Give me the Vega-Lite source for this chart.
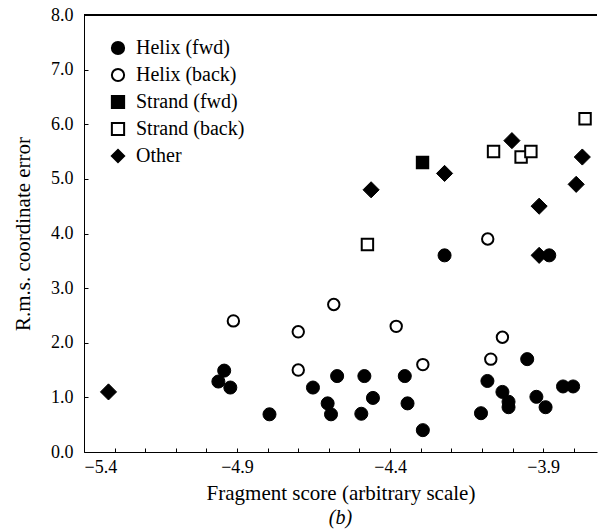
{
  "$schema": "https://vega.github.io/schema/vega-lite/v6.json",
  "width": 513,
  "height": 437,
  "autosize": {"type": "none"},
  "padding": {"left": 84, "top": 15, "right": 2, "bottom": 79},
  "background": "white",
  "config": {
    "font": "Liberation Serif",
    "view": {"stroke": null},
    "axis": {"grid": false, "domainColor": "black", "tickColor": "black", "labelColor": "black", "titleColor": "black", "labelFont": "Liberation Serif", "titleFont": "Liberation Serif", "labelFontSize": 18, "titleFontSize": 21, "titleFontWeight": "normal", "tickSize": -4, "labelPadding": 15, "labelOverlap": false},
    "legend": {"title": null, "orient": "none", "legendX": 24, "legendY": 23, "rowPadding": 5, "symbolStrokeWidth": 2, "symbolSize": 150, "labelOffset": 8, "labelFont": "Liberation Serif", "labelFontSize": 20, "labelColor": "black"}
  },
  "title": {"text": "(b)", "orient": "bottom", "fontSize": 20, "font": "Liberation Serif", "fontStyle": "italic", "fontWeight": "normal", "offset": 5, "color": "black"},
  "data": {"values": [
    {"x": -4.912, "y": 2.4, "type": "Helix (back)"},
    {"x": -4.70, "y": 2.2, "type": "Helix (back)"},
    {"x": -4.584, "y": 2.7, "type": "Helix (back)"},
    {"x": -4.380, "y": 2.3, "type": "Helix (back)"},
    {"x": -4.70, "y": 1.5, "type": "Helix (back)"},
    {"x": -4.293, "y": 1.6, "type": "Helix (back)"},
    {"x": -4.033, "y": 2.1, "type": "Helix (back)"},
    {"x": -4.071, "y": 1.7, "type": "Helix (back)"},
    {"x": -4.081, "y": 3.9, "type": "Helix (back)"},
    {"x": -4.942, "y": 1.49, "type": "Helix (fwd)"},
    {"x": -4.961, "y": 1.29, "type": "Helix (fwd)"},
    {"x": -4.922, "y": 1.18, "type": "Helix (fwd)"},
    {"x": -4.794, "y": 0.69, "type": "Helix (fwd)"},
    {"x": -4.652, "y": 1.18, "type": "Helix (fwd)"},
    {"x": -4.604, "y": 0.89, "type": "Helix (fwd)"},
    {"x": -4.593, "y": 0.69, "type": "Helix (fwd)"},
    {"x": -4.573, "y": 1.39, "type": "Helix (fwd)"},
    {"x": -4.484, "y": 1.39, "type": "Helix (fwd)"},
    {"x": -4.494, "y": 0.70, "type": "Helix (fwd)"},
    {"x": -4.456, "y": 0.99, "type": "Helix (fwd)"},
    {"x": -4.352, "y": 1.39, "type": "Helix (fwd)"},
    {"x": -4.343, "y": 0.89, "type": "Helix (fwd)"},
    {"x": -4.293, "y": 0.40, "type": "Helix (fwd)"},
    {"x": -3.952, "y": 1.70, "type": "Helix (fwd)"},
    {"x": -4.082, "y": 1.30, "type": "Helix (fwd)"},
    {"x": -4.103, "y": 0.71, "type": "Helix (fwd)"},
    {"x": -4.033, "y": 1.10, "type": "Helix (fwd)"},
    {"x": -4.013, "y": 0.92, "type": "Helix (fwd)"},
    {"x": -4.013, "y": 0.82, "type": "Helix (fwd)"},
    {"x": -3.922, "y": 1.01, "type": "Helix (fwd)"},
    {"x": -3.892, "y": 0.82, "type": "Helix (fwd)"},
    {"x": -3.835, "y": 1.20, "type": "Helix (fwd)"},
    {"x": -3.802, "y": 1.20, "type": "Helix (fwd)"},
    {"x": -4.222, "y": 3.6, "type": "Helix (fwd)"},
    {"x": -3.880, "y": 3.6, "type": "Helix (fwd)"},
    {"x": -4.294, "y": 5.3, "type": "Strand (fwd)"},
    {"x": -3.763, "y": 6.1, "type": "Strand (back)"},
    {"x": -4.062, "y": 5.5, "type": "Strand (back)"},
    {"x": -3.972, "y": 5.4, "type": "Strand (back)"},
    {"x": -3.940, "y": 5.5, "type": "Strand (back)"},
    {"x": -4.474, "y": 3.8, "type": "Strand (back)"},
    {"x": -4.002, "y": 5.7, "type": "Other"},
    {"x": -3.772, "y": 5.4, "type": "Other"},
    {"x": -4.222, "y": 5.1, "type": "Other"},
    {"x": -4.462, "y": 4.8, "type": "Other"},
    {"x": -3.792, "y": 4.9, "type": "Other"},
    {"x": -3.913, "y": 4.5, "type": "Other"},
    {"x": -3.913, "y": 3.6, "type": "Other"},
    {"x": -5.32, "y": 1.1, "type": "Other"}
  ]},
  "layer": [
    {
      "mark": {"type": "rule", "color": "black", "strokeWidth": 1},
      "encoding": {"y": {"datum": 8, "type": "quantitative"}}
    },
    {
      "encoding": {
        "x": {"field": "x", "type": "quantitative", "scale": {"domain": [-5.4, -3.724], "nice": false, "zero": false}, "axis": {"values": [-5.4, -5.3, -5.2, -5.1, -5.0, -4.9, -4.8, -4.7, -4.6, -4.5, -4.4, -4.3, -4.2, -4.1, -4.0, -3.9, -3.8], "labelExpr": "round((datum.value + 5.4) * 10) % 5 == 0 ? datum.label : ''", "format": ".1f", "title": "Fragment score (arbitrary scale)", "labelPadding": 10, "titlePadding": 6}},
        "y": {"field": "y", "type": "quantitative", "scale": {"domain": [0, 8], "nice": false}, "axis": {"values": [0, 0.5, 1, 1.5, 2, 2.5, 3, 3.5, 4, 4.5, 5, 5.5, 6, 6.5, 7, 7.5, 8], "labelExpr": "datum.value % 1 == 0 ? datum.label : ''", "format": ".1f", "title": "R.m.s. coordinate error", "titlePadding": 17}},
        "shape": {"field": "type", "type": "nominal", "scale": {"domain": ["Helix (fwd)", "Helix (back)", "Strand (fwd)", "Strand (back)", "Other"], "range": ["circle", "circle", "square", "square", "diamond"]}},
        "fill": {"field": "type", "type": "nominal", "scale": {"domain": ["Helix (fwd)", "Helix (back)", "Strand (fwd)", "Strand (back)", "Other"], "range": ["black", "white", "black", "white", "black"]}}
      },
      "layer": [
        {
          "transform": [{"filter": "datum.type == 'Helix (fwd)'"}],
          "mark": {"type": "point", "filled": true, "stroke": "black", "strokeWidth": 1, "opacity": 1, "size": 170}
        },
        {
          "transform": [{"filter": "datum.type == 'Helix (back)' || datum.type == 'Strand (fwd)' || datum.type == 'Strand (back)'"}],
          "mark": {"type": "point", "filled": true, "stroke": "black", "strokeWidth": 2, "opacity": 1, "size": 130}
        },
        {
          "transform": [{"filter": "datum.type == 'Other'"}],
          "mark": {"type": "point", "filled": true, "stroke": "black", "strokeWidth": 1, "opacity": 1, "size": 260}
        }
      ]
    }
  ]
}
